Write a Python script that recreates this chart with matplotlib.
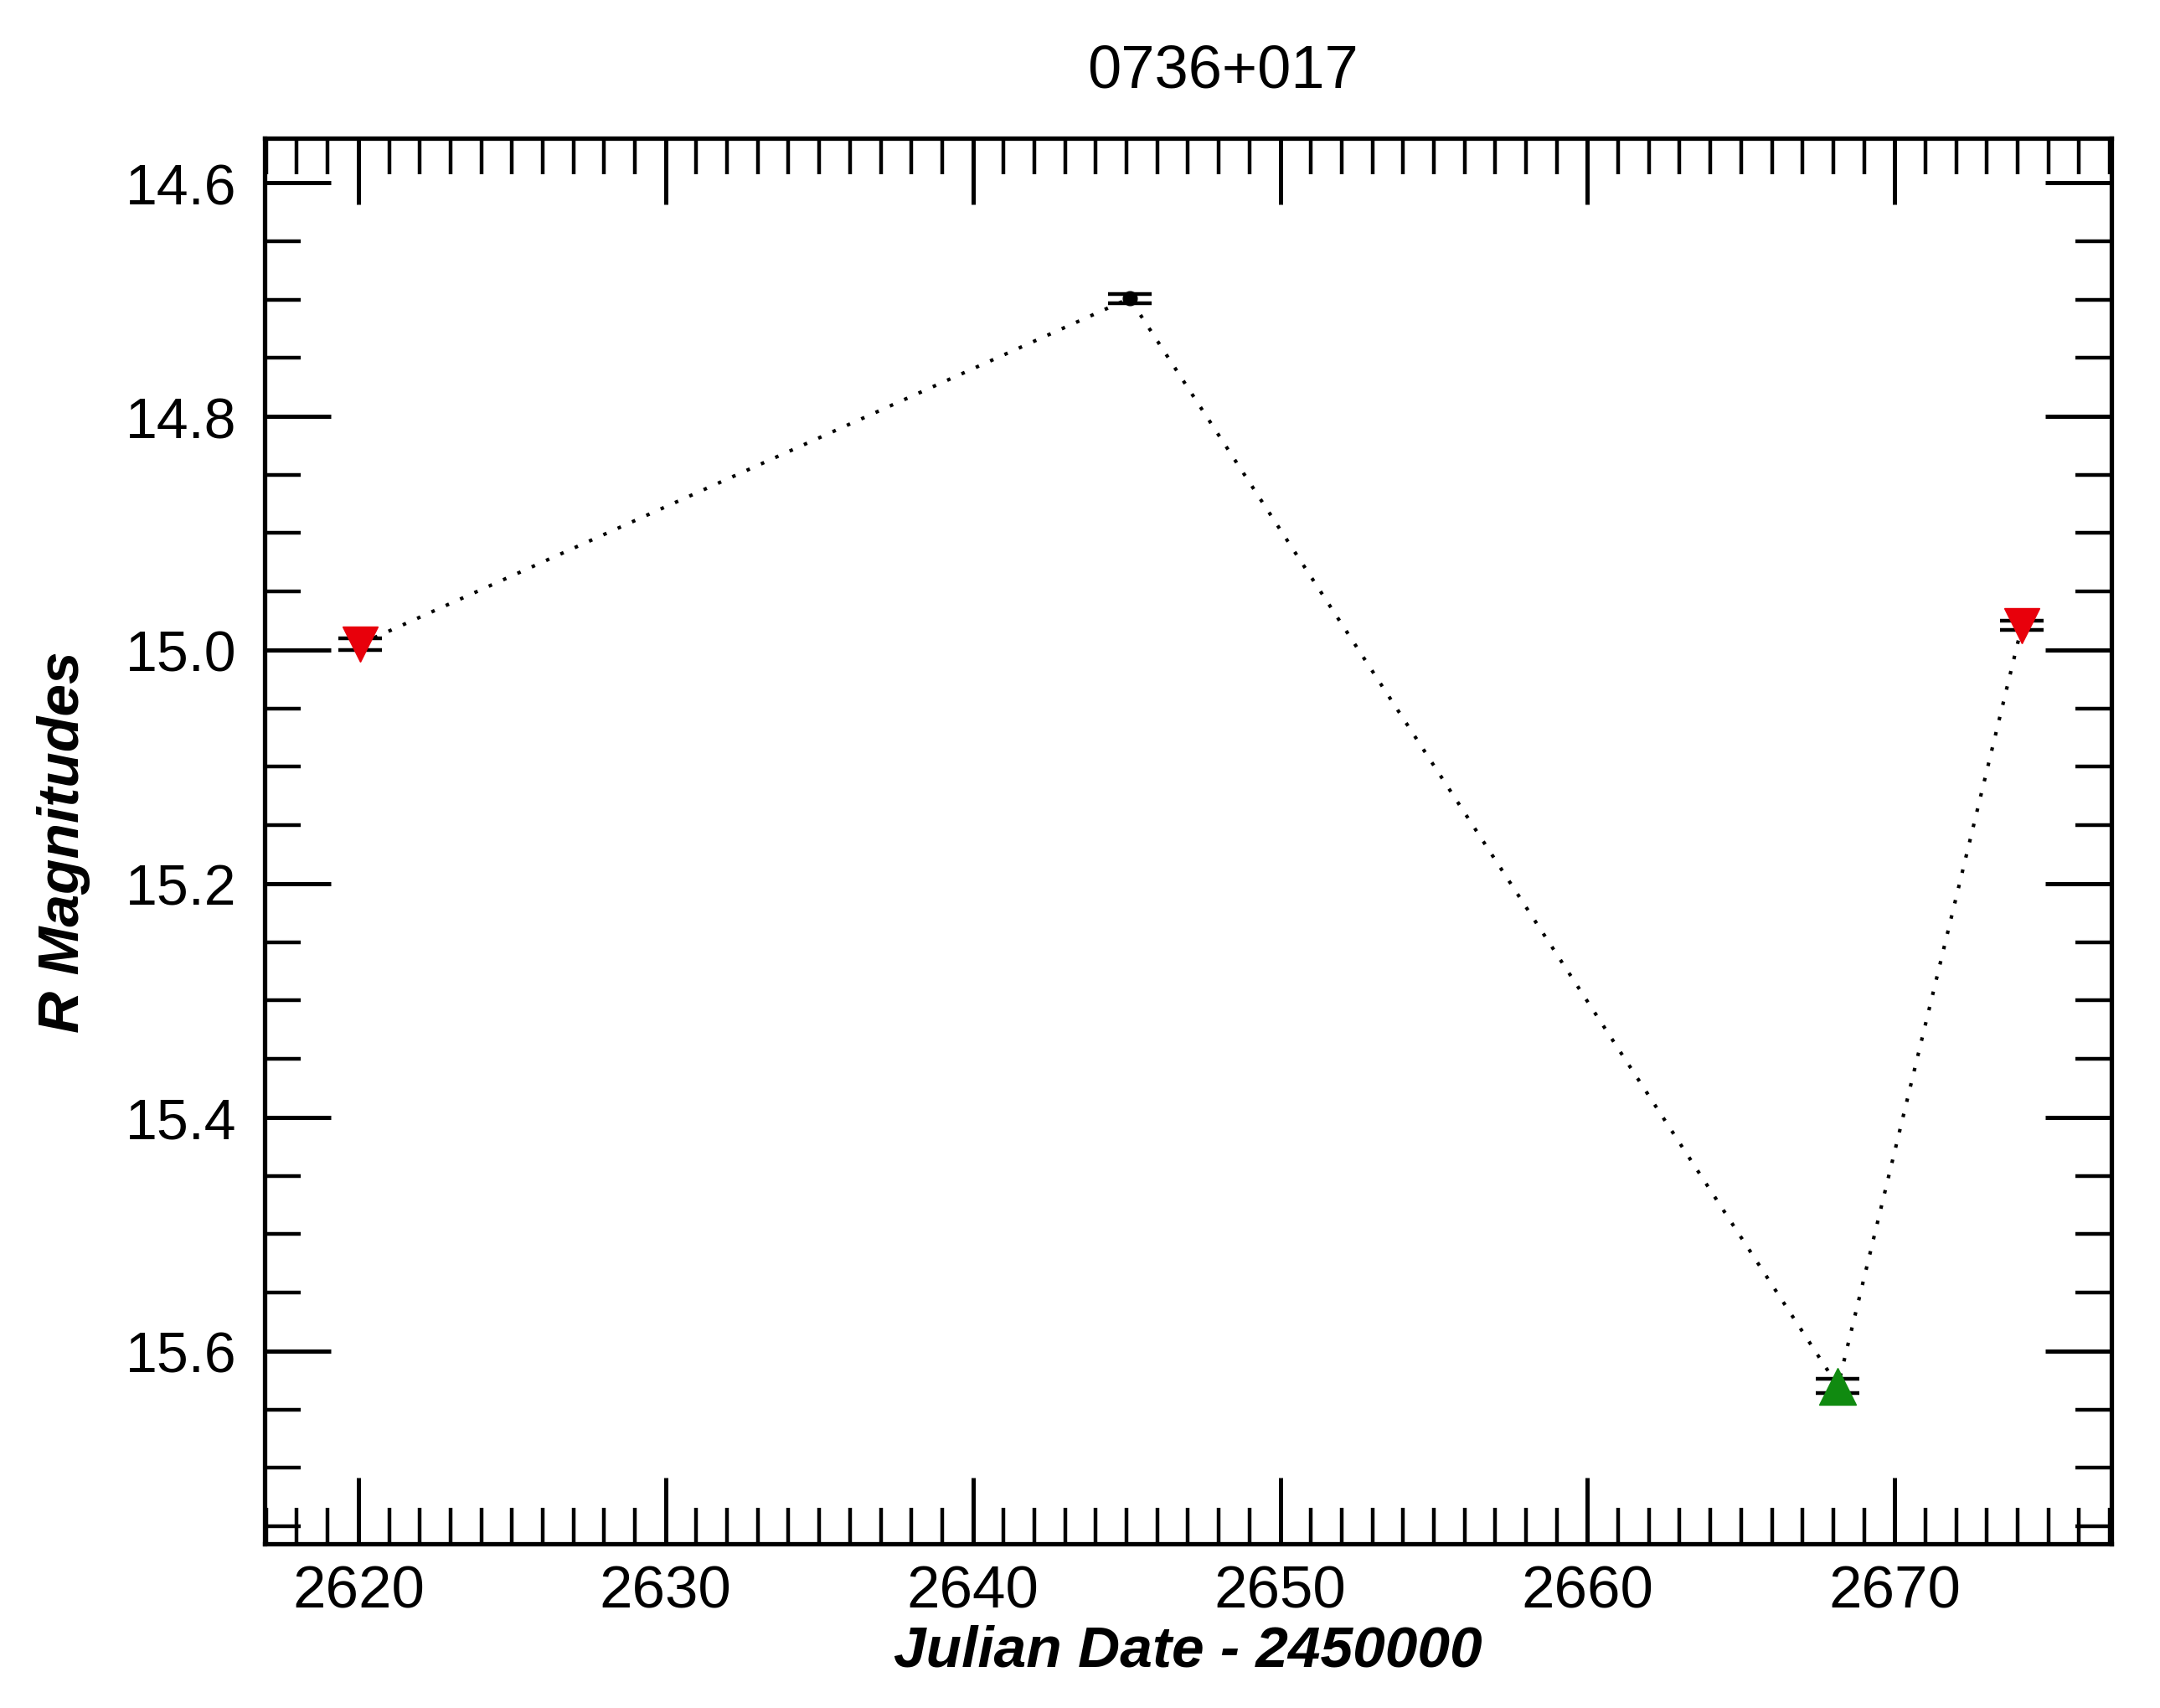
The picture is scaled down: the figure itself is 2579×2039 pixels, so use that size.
import numpy as np
import matplotlib
matplotlib.use('Agg')
import matplotlib.pyplot as plt
from matplotlib.ticker import MultipleLocator

# light curve points (JD - 2450000, R mag, error)
jd = [2620.05, 2645.1, 2668.15, 2674.14]
rmag = [14.995, 14.699, 15.630, 14.979]
rerr = [0.005, 0.004, 0.006, 0.004]
kind = ['down', 'det', 'up', 'down']

TITLE = '0736+017'
XLABEL = 'Julian Date - 2450000'
YLABEL = 'R Magnitudes'

plt.rcParams.update({
    'font.family': 'Liberation Sans',
    'font.size': 48,
    'axes.linewidth': 3.8,
    'xtick.direction': 'in',
    'ytick.direction': 'in',
})

STYLE = {
    'down': dict(marker='v', color='#e8000b', ms=30),
    'up': dict(marker='^', color='#108a10', ms=32),
    'det': dict(marker='o', color='black', ms=12),
}

fig = plt.figure(figsize=(25.79, 20.40), dpi=100)
ax = fig.add_axes([0.1225, 0.0961, 0.855, 0.8225])

# dotted connecting line
ax.plot(jd, rmag, color='black', lw=3.0, linestyle=(0, (1, 3.5)), zorder=1)

for x, y, e, k in zip(jd, rmag, rerr, kind):
    ax.errorbar([x], [y], yerr=[e], fmt='none', ecolor='black',
                elinewidth=3, capsize=19, capthick=3.2, zorder=2)
    s = STYLE[k]
    ax.plot([x], [y], linestyle='none', marker=s['marker'], ms=s['ms'],
            color=s['color'], mec=s['color'], zorder=3)

ax.set_xlim(2616.95, 2677.05)
ax.set_ylim(15.765, 14.562)

ax.xaxis.set_major_locator(MultipleLocator(10))
ax.xaxis.set_minor_locator(MultipleLocator(1))
ax.yaxis.set_major_locator(MultipleLocator(0.2))
ax.yaxis.set_minor_locator(MultipleLocator(0.05))
ax.yaxis.set_major_formatter(plt.FormatStrFormatter('%.1f'))

ax.tick_params(which='both', top=True, right=True)
ax.tick_params(which='major', length=57, width=3.6)
ax.tick_params(which='minor', length=31, width=3.2)
ax.tick_params(axis='x', which='major', pad=18, labelsize=51)
ax.tick_params(axis='y', which='major', pad=24, labelsize=49)

ax.set_title(TITLE, fontsize=52, pad=44, x=0.519)
ax.set_xlabel(XLABEL, fontsize=50, fontweight='bold', fontstyle='italic', labelpad=3)
ax.set_ylabel(YLABEL, fontsize=50, fontweight='bold', fontstyle='italic', labelpad=30)

fig.savefig('out.png', dpi=100)
